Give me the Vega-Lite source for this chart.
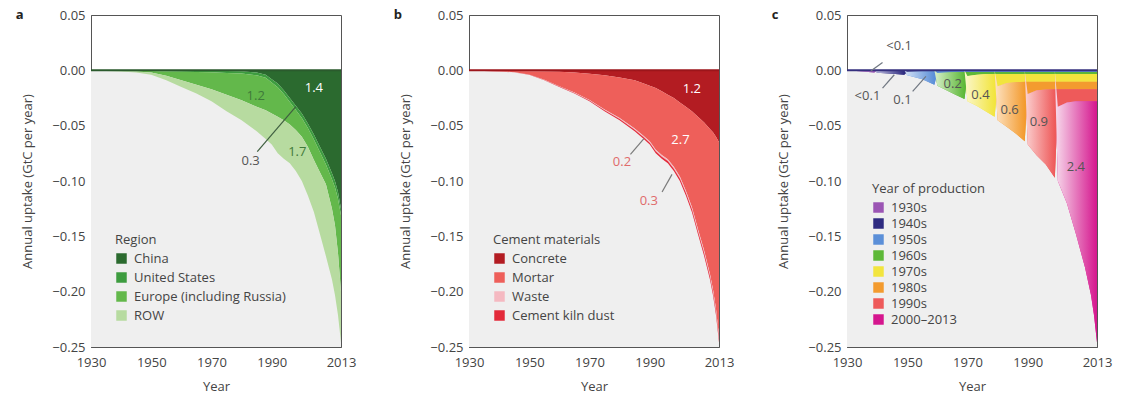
{
  "$schema": "https://vega.github.io/schema/vega-lite/v6.json",
  "padding": {"left": 15, "top": 8, "right": 5, "bottom": 0},
  "spacing": 36,
  "config": {
    "font": "Open Sans",
    "view": {"stroke": "#555", "strokeWidth": 1},
    "axis": {"domain": false, "grid": false, "tickSize": -4, "tickColor": "#555", "labelFont": "Open Sans", "labelFontSize": 13, "labelColor": "#444", "titleFont": "Open Sans", "titleFontSize": 13, "titleFontWeight": "normal", "titleColor": "#444"},
    "legend": {"orient": "none", "labelFont": "Open Sans", "labelFontSize": 13, "labelColor": "#444", "titleFont": "Open Sans", "titleFontSize": 13, "titleFontWeight": "normal", "titleColor": "#444", "symbolType": "square", "symbolSize": 110, "symbolStrokeWidth": 0, "rowPadding": 5, "titlePadding": 5, "labelOffset": 6},
    "title": {"font": "Open Sans", "fontSize": 13, "fontWeight": "bold", "color": "#222", "anchor": "start", "frame": "bounds", "offset": -13, "dx": -6}
  },
  "resolve": {"scale": {"color": "independent", "x": "independent", "y": "independent"}, "legend": {"color": "independent"}},
  "datasets": {
    "a": [
      {"year":1930,"s":"China","v":0},{"year":1935,"s":"China","v":-0.0001},{"year":1940,"s":"China","v":-0.0001},{"year":1945,"s":"China","v":-0.0001},{"year":1950,"s":"China","v":-0.0002},{"year":1955,"s":"China","v":-0.0002},{"year":1960,"s":"China","v":-0.0002},{"year":1965,"s":"China","v":-0.0003},{"year":1970,"s":"China","v":-0.0003},{"year":1975,"s":"China","v":-0.0005},{"year":1980,"s":"China","v":-0.0008},{"year":1985,"s":"China","v":-0.002},{"year":1988,"s":"China","v":-0.004},{"year":1990,"s":"China","v":-0.008},{"year":1992,"s":"China","v":-0.012},{"year":1994,"s":"China","v":-0.018},{"year":1996,"s":"China","v":-0.025},{"year":1998,"s":"China","v":-0.032},{"year":2000,"s":"China","v":-0.039},{"year":2002,"s":"China","v":-0.048},{"year":2004,"s":"China","v":-0.058},{"year":2006,"s":"China","v":-0.069},{"year":2008,"s":"China","v":-0.08},{"year":2010,"s":"China","v":-0.093},{"year":2011,"s":"China","v":-0.1},{"year":2012,"s":"China","v":-0.11},{"year":2013,"s":"China","v":-0.125},
      {"year":1930,"s":"United States","v":0},{"year":1935,"s":"United States","v":-0.0001},{"year":1940,"s":"United States","v":-0.0001},{"year":1945,"s":"United States","v":-0.0002},{"year":1950,"s":"United States","v":-0.0005},{"year":1955,"s":"United States","v":-0.0008},{"year":1960,"s":"United States","v":-0.001},{"year":1965,"s":"United States","v":-0.0012},{"year":1970,"s":"United States","v":-0.0015},{"year":1975,"s":"United States","v":-0.0018},{"year":1980,"s":"United States","v":-0.002},{"year":1985,"s":"United States","v":-0.0025},{"year":1988,"s":"United States","v":-0.0028},{"year":1990,"s":"United States","v":-0.003},{"year":1992,"s":"United States","v":-0.0032},{"year":1994,"s":"United States","v":-0.0034},{"year":1996,"s":"United States","v":-0.0036},{"year":1998,"s":"United States","v":-0.0038},{"year":2000,"s":"United States","v":-0.004},{"year":2002,"s":"United States","v":-0.0042},{"year":2004,"s":"United States","v":-0.0045},{"year":2006,"s":"United States","v":-0.0048},{"year":2008,"s":"United States","v":-0.005},{"year":2010,"s":"United States","v":-0.0055},{"year":2011,"s":"United States","v":-0.0057},{"year":2012,"s":"United States","v":-0.006},{"year":2013,"s":"United States","v":-0.006},
      {"year":1930,"s":"Europe (including Russia)","v":0},{"year":1935,"s":"Europe (including Russia)","v":-0.0001},{"year":1940,"s":"Europe (including Russia)","v":-0.0004},{"year":1945,"s":"Europe (including Russia)","v":-0.0007},{"year":1950,"s":"Europe (including Russia)","v":-0.0013},{"year":1955,"s":"Europe (including Russia)","v":-0.004},{"year":1960,"s":"Europe (including Russia)","v":-0.0078},{"year":1965,"s":"Europe (including Russia)","v":-0.0115},{"year":1970,"s":"Europe (including Russia)","v":-0.0152},{"year":1975,"s":"Europe (including Russia)","v":-0.0197},{"year":1980,"s":"Europe (including Russia)","v":-0.0242},{"year":1985,"s":"Europe (including Russia)","v":-0.0285},{"year":1988,"s":"Europe (including Russia)","v":-0.0292},{"year":1990,"s":"Europe (including Russia)","v":-0.028},{"year":1992,"s":"Europe (including Russia)","v":-0.0268},{"year":1994,"s":"Europe (including Russia)","v":-0.0236},{"year":1996,"s":"Europe (including Russia)","v":-0.0204},{"year":1998,"s":"Europe (including Russia)","v":-0.0182},{"year":2000,"s":"Europe (including Russia)","v":-0.017},{"year":2002,"s":"Europe (including Russia)","v":-0.0168},{"year":2004,"s":"Europe (including Russia)","v":-0.0185},{"year":2006,"s":"Europe (including Russia)","v":-0.0182},{"year":2008,"s":"Europe (including Russia)","v":-0.018},{"year":2010,"s":"Europe (including Russia)","v":-0.0265},{"year":2011,"s":"Europe (including Russia)","v":-0.0343},{"year":2012,"s":"Europe (including Russia)","v":-0.049},{"year":2013,"s":"Europe (including Russia)","v":-0.069},
      {"year":1930,"s":"ROW","v":0},{"year":1935,"s":"ROW","v":-0.0002},{"year":1940,"s":"ROW","v":-0.0004},{"year":1945,"s":"ROW","v":-0.001},{"year":1950,"s":"ROW","v":-0.002},{"year":1955,"s":"ROW","v":-0.004},{"year":1960,"s":"ROW","v":-0.006},{"year":1965,"s":"ROW","v":-0.008},{"year":1970,"s":"ROW","v":-0.011},{"year":1975,"s":"ROW","v":-0.015},{"year":1980,"s":"ROW","v":-0.018},{"year":1985,"s":"ROW","v":-0.022},{"year":1988,"s":"ROW","v":-0.026},{"year":1990,"s":"ROW","v":-0.028},{"year":1992,"s":"ROW","v":-0.033},{"year":1994,"s":"ROW","v":-0.035},{"year":1996,"s":"ROW","v":-0.035},{"year":1998,"s":"ROW","v":-0.037},{"year":2000,"s":"ROW","v":-0.04},{"year":2002,"s":"ROW","v":-0.044},{"year":2004,"s":"ROW","v":-0.047},{"year":2006,"s":"ROW","v":-0.056},{"year":2008,"s":"ROW","v":-0.065},{"year":2010,"s":"ROW","v":-0.064},{"year":2011,"s":"ROW","v":-0.063},{"year":2012,"s":"ROW","v":-0.056},{"year":2013,"s":"ROW","v":-0.046}
    ],
    "b": [
      {"year":1930,"s":"Concrete","v":0},{"year":1935,"s":"Concrete","v":-0.0002},{"year":1940,"s":"Concrete","v":-0.0004},{"year":1945,"s":"Concrete","v":-0.0006},{"year":1950,"s":"Concrete","v":-0.0008},{"year":1955,"s":"Concrete","v":-0.001},{"year":1960,"s":"Concrete","v":-0.0013},{"year":1965,"s":"Concrete","v":-0.002},{"year":1970,"s":"Concrete","v":-0.003},{"year":1975,"s":"Concrete","v":-0.0045},{"year":1980,"s":"Concrete","v":-0.0065},{"year":1985,"s":"Concrete","v":-0.009},{"year":1988,"s":"Concrete","v":-0.012},{"year":1990,"s":"Concrete","v":-0.014},{"year":1992,"s":"Concrete","v":-0.016},{"year":1994,"s":"Concrete","v":-0.019},{"year":1996,"s":"Concrete","v":-0.022},{"year":1998,"s":"Concrete","v":-0.025},{"year":2000,"s":"Concrete","v":-0.029},{"year":2002,"s":"Concrete","v":-0.033},{"year":2004,"s":"Concrete","v":-0.037},{"year":2006,"s":"Concrete","v":-0.042},{"year":2008,"s":"Concrete","v":-0.047},{"year":2010,"s":"Concrete","v":-0.053},{"year":2011,"s":"Concrete","v":-0.056},{"year":2012,"s":"Concrete","v":-0.06},{"year":2013,"s":"Concrete","v":-0.065},
      {"year":1930,"s":"Mortar","v":0},{"year":1935,"s":"Mortar","v":-0.0001},{"year":1940,"s":"Mortar","v":-0.0004},{"year":1945,"s":"Mortar","v":-0.0012},{"year":1950,"s":"Mortar","v":-0.0029},{"year":1955,"s":"Mortar","v":-0.0075},{"year":1960,"s":"Mortar","v":-0.013},{"year":1965,"s":"Mortar","v":-0.0181},{"year":1970,"s":"Mortar","v":-0.0238},{"year":1975,"s":"Mortar","v":-0.0309},{"year":1980,"s":"Mortar","v":-0.0365},{"year":1985,"s":"Mortar","v":-0.0436},{"year":1988,"s":"Mortar","v":-0.0473},{"year":1990,"s":"Mortar","v":-0.0501},{"year":1992,"s":"Mortar","v":-0.0558},{"year":1994,"s":"Mortar","v":-0.0576},{"year":1996,"s":"Mortar","v":-0.0584},{"year":1998,"s":"Mortar","v":-0.0622},{"year":2000,"s":"Mortar","v":-0.067},{"year":2002,"s":"Mortar","v":-0.0758},{"year":2004,"s":"Mortar","v":-0.0866},{"year":2006,"s":"Mortar","v":-0.1014},{"year":2008,"s":"Mortar","v":-0.1152},{"year":2010,"s":"Mortar","v":-0.131},{"year":2011,"s":"Mortar","v":-0.1419},{"year":2012,"s":"Mortar","v":-0.1557},{"year":2013,"s":"Mortar","v":-0.1755},
      {"year":1930,"s":"Waste","v":0},{"year":1935,"s":"Waste","v":-0.0001},{"year":1940,"s":"Waste","v":-0.0001},{"year":1945,"s":"Waste","v":-0.0001},{"year":1950,"s":"Waste","v":-0.0001},{"year":1955,"s":"Waste","v":-0.0002},{"year":1960,"s":"Waste","v":-0.0003},{"year":1965,"s":"Waste","v":-0.0004},{"year":1970,"s":"Waste","v":-0.0005},{"year":1975,"s":"Waste","v":-0.0007},{"year":1980,"s":"Waste","v":-0.0009},{"year":1985,"s":"Waste","v":-0.0011},{"year":1988,"s":"Waste","v":-0.0012},{"year":1990,"s":"Waste","v":-0.0013},{"year":1992,"s":"Waste","v":-0.0014},{"year":1994,"s":"Waste","v":-0.0015},{"year":1996,"s":"Waste","v":-0.0016},{"year":1998,"s":"Waste","v":-0.0017},{"year":2000,"s":"Waste","v":-0.0018},{"year":2002,"s":"Waste","v":-0.0019},{"year":2004,"s":"Waste","v":-0.002},{"year":2006,"s":"Waste","v":-0.0021},{"year":2008,"s":"Waste","v":-0.0022},{"year":2010,"s":"Waste","v":-0.0023},{"year":2011,"s":"Waste","v":-0.0023},{"year":2012,"s":"Waste","v":-0.0024},{"year":2013,"s":"Waste","v":-0.0025},
      {"year":1930,"s":"Cement kiln dust","v":0},{"year":1935,"s":"Cement kiln dust","v":-0.0001},{"year":1940,"s":"Cement kiln dust","v":-0.0001},{"year":1945,"s":"Cement kiln dust","v":-0.0001},{"year":1950,"s":"Cement kiln dust","v":-0.0002},{"year":1955,"s":"Cement kiln dust","v":-0.0003},{"year":1960,"s":"Cement kiln dust","v":-0.0004},{"year":1965,"s":"Cement kiln dust","v":-0.0005},{"year":1970,"s":"Cement kiln dust","v":-0.0007},{"year":1975,"s":"Cement kiln dust","v":-0.0009},{"year":1980,"s":"Cement kiln dust","v":-0.0011},{"year":1985,"s":"Cement kiln dust","v":-0.0013},{"year":1988,"s":"Cement kiln dust","v":-0.0015},{"year":1990,"s":"Cement kiln dust","v":-0.0016},{"year":1992,"s":"Cement kiln dust","v":-0.0018},{"year":1994,"s":"Cement kiln dust","v":-0.0019},{"year":1996,"s":"Cement kiln dust","v":-0.002},{"year":1998,"s":"Cement kiln dust","v":-0.0021},{"year":2000,"s":"Cement kiln dust","v":-0.0022},{"year":2002,"s":"Cement kiln dust","v":-0.0023},{"year":2004,"s":"Cement kiln dust","v":-0.0024},{"year":2006,"s":"Cement kiln dust","v":-0.0025},{"year":2008,"s":"Cement kiln dust","v":-0.0026},{"year":2010,"s":"Cement kiln dust","v":-0.0027},{"year":2011,"s":"Cement kiln dust","v":-0.0028},{"year":2012,"s":"Cement kiln dust","v":-0.0029},{"year":2013,"s":"Cement kiln dust","v":-0.003}
    ],
    "c": [
      {"year":1930,"s":"1930s","v":0},{"year":1935,"s":"1930s","v":-0.001},{"year":1939,"s":"1930s","v":-0.002},{"year":1940,"s":"1930s","v":-0.0006},{"year":1945,"s":"1930s","v":-0.0004},{"year":1949,"s":"1930s","v":-0.0003},{"year":1950,"s":"1930s","v":-0.0003},{"year":1955,"s":"1930s","v":-0.0003},{"year":1959,"s":"1930s","v":-0.0003},{"year":1960,"s":"1930s","v":-0.0003},{"year":1963,"s":"1930s","v":-0.0003},{"year":1966,"s":"1930s","v":-0.0003},{"year":1969,"s":"1930s","v":-0.0003},{"year":1970,"s":"1930s","v":-0.0003},{"year":1973,"s":"1930s","v":-0.0003},{"year":1976,"s":"1930s","v":-0.0003},{"year":1979,"s":"1930s","v":-0.0003},{"year":1980,"s":"1930s","v":-0.0003},{"year":1983,"s":"1930s","v":-0.0003},{"year":1986,"s":"1930s","v":-0.0003},{"year":1989,"s":"1930s","v":-0.0003},{"year":1990,"s":"1930s","v":-0.0003},{"year":1993,"s":"1930s","v":-0.0003},{"year":1996,"s":"1930s","v":-0.0003},{"year":1999,"s":"1930s","v":-0.0003},{"year":2000,"s":"1930s","v":-0.0003},{"year":2003,"s":"1930s","v":-0.0003},{"year":2006,"s":"1930s","v":-0.0003},{"year":2009,"s":"1930s","v":-0.0003},{"year":2011,"s":"1930s","v":-0.0003},{"year":2012,"s":"1930s","v":-0.0003},{"year":2013,"s":"1930s","v":-0.0003},
      {"year":1939,"s":"1940s","v":0},{"year":1940,"s":"1940s","v":-0.0016},{"year":1945,"s":"1940s","v":-0.0026},{"year":1949,"s":"1940s","v":-0.0037},{"year":1950,"s":"1940s","v":-0.0009},{"year":1955,"s":"1940s","v":-0.0006},{"year":1959,"s":"1940s","v":-0.0005},{"year":1960,"s":"1940s","v":-0.0005},{"year":1963,"s":"1940s","v":-0.0005},{"year":1966,"s":"1940s","v":-0.0005},{"year":1969,"s":"1940s","v":-0.0005},{"year":1970,"s":"1940s","v":-0.0005},{"year":1973,"s":"1940s","v":-0.0005},{"year":1976,"s":"1940s","v":-0.0005},{"year":1979,"s":"1940s","v":-0.0005},{"year":1980,"s":"1940s","v":-0.0005},{"year":1983,"s":"1940s","v":-0.0005},{"year":1986,"s":"1940s","v":-0.0005},{"year":1989,"s":"1940s","v":-0.0005},{"year":1990,"s":"1940s","v":-0.0005},{"year":1993,"s":"1940s","v":-0.0005},{"year":1996,"s":"1940s","v":-0.0005},{"year":1999,"s":"1940s","v":-0.0005},{"year":2000,"s":"1940s","v":-0.0005},{"year":2003,"s":"1940s","v":-0.0005},{"year":2006,"s":"1940s","v":-0.0005},{"year":2009,"s":"1940s","v":-0.0005},{"year":2011,"s":"1940s","v":-0.0005},{"year":2012,"s":"1940s","v":-0.0005},{"year":2013,"s":"1940s","v":-0.0005},
      {"year":1949,"s":"1950s","v":0},{"year":1950,"s":"1950s","v":-0.0033},{"year":1955,"s":"1950s","v":-0.0071},{"year":1959,"s":"1950s","v":-0.0122},{"year":1960,"s":"1950s","v":-0.0016},{"year":1963,"s":"1950s","v":-0.0011},{"year":1966,"s":"1950s","v":-0.0008},{"year":1969,"s":"1950s","v":-0.0008},{"year":1970,"s":"1950s","v":-0.0008},{"year":1973,"s":"1950s","v":-0.0008},{"year":1976,"s":"1950s","v":-0.0008},{"year":1979,"s":"1950s","v":-0.0008},{"year":1980,"s":"1950s","v":-0.0008},{"year":1983,"s":"1950s","v":-0.0008},{"year":1986,"s":"1950s","v":-0.0008},{"year":1989,"s":"1950s","v":-0.0008},{"year":1990,"s":"1950s","v":-0.0008},{"year":1993,"s":"1950s","v":-0.0008},{"year":1996,"s":"1950s","v":-0.0008},{"year":1999,"s":"1950s","v":-0.0008},{"year":2000,"s":"1950s","v":-0.0008},{"year":2003,"s":"1950s","v":-0.0008},{"year":2006,"s":"1950s","v":-0.0008},{"year":2009,"s":"1950s","v":-0.0008},{"year":2011,"s":"1950s","v":-0.0008},{"year":2012,"s":"1950s","v":-0.0008},{"year":2013,"s":"1950s","v":-0.0008},
      {"year":1959,"s":"1960s","v":0},{"year":1960,"s":"1960s","v":-0.0116},{"year":1963,"s":"1960s","v":-0.0161},{"year":1966,"s":"1960s","v":-0.0204},{"year":1969,"s":"1960s","v":-0.0244},{"year":1970,"s":"1960s","v":-0.0035},{"year":1973,"s":"1960s","v":-0.0023},{"year":1976,"s":"1960s","v":-0.0018},{"year":1979,"s":"1960s","v":-0.0018},{"year":1980,"s":"1960s","v":-0.0018},{"year":1983,"s":"1960s","v":-0.0018},{"year":1986,"s":"1960s","v":-0.0018},{"year":1989,"s":"1960s","v":-0.0018},{"year":1990,"s":"1960s","v":-0.0018},{"year":1993,"s":"1960s","v":-0.0018},{"year":1996,"s":"1960s","v":-0.0018},{"year":1999,"s":"1960s","v":-0.0018},{"year":2000,"s":"1960s","v":-0.0018},{"year":2003,"s":"1960s","v":-0.0018},{"year":2006,"s":"1960s","v":-0.0018},{"year":2009,"s":"1960s","v":-0.0018},{"year":2011,"s":"1960s","v":-0.0018},{"year":2012,"s":"1960s","v":-0.0018},{"year":2013,"s":"1960s","v":-0.0018},
      {"year":1969,"s":"1970s","v":0},{"year":1970,"s":"1970s","v":-0.0229},{"year":1973,"s":"1970s","v":-0.0281},{"year":1976,"s":"1970s","v":-0.0336},{"year":1979,"s":"1970s","v":-0.0386},{"year":1980,"s":"1970s","v":-0.011},{"year":1983,"s":"1970s","v":-0.008},{"year":1986,"s":"1970s","v":-0.0073},{"year":1989,"s":"1970s","v":-0.007},{"year":1990,"s":"1970s","v":-0.007},{"year":1993,"s":"1970s","v":-0.007},{"year":1996,"s":"1970s","v":-0.007},{"year":1999,"s":"1970s","v":-0.007},{"year":2000,"s":"1970s","v":-0.007},{"year":2003,"s":"1970s","v":-0.007},{"year":2006,"s":"1970s","v":-0.007},{"year":2009,"s":"1970s","v":-0.007},{"year":2011,"s":"1970s","v":-0.007},{"year":2012,"s":"1970s","v":-0.007},{"year":2013,"s":"1970s","v":-0.007},
      {"year":1979,"s":"1980s","v":0},{"year":1980,"s":"1980s","v":-0.0306},{"year":1983,"s":"1980s","v":-0.0396},{"year":1986,"s":"1980s","v":-0.0463},{"year":1989,"s":"1980s","v":-0.0536},{"year":1990,"s":"1980s","v":-0.011},{"year":1993,"s":"1980s","v":-0.0075},{"year":1996,"s":"1980s","v":-0.007},{"year":1999,"s":"1980s","v":-0.0066},{"year":2000,"s":"1980s","v":-0.0066},{"year":2003,"s":"1980s","v":-0.0066},{"year":2006,"s":"1980s","v":-0.0066},{"year":2009,"s":"1980s","v":-0.0066},{"year":2011,"s":"1980s","v":-0.0066},{"year":2012,"s":"1980s","v":-0.0066},{"year":2013,"s":"1980s","v":-0.0066},
      {"year":1989,"s":"1990s","v":0},{"year":1990,"s":"1990s","v":-0.0456},{"year":1993,"s":"1990s","v":-0.0591},{"year":1996,"s":"1990s","v":-0.0676},{"year":1999,"s":"1990s","v":-0.08},{"year":2000,"s":"1990s","v":-0.016},{"year":2003,"s":"1990s","v":-0.012},{"year":2006,"s":"1990s","v":-0.011},{"year":2009,"s":"1990s","v":-0.011},{"year":2011,"s":"1990s","v":-0.011},{"year":2012,"s":"1990s","v":-0.011},{"year":2013,"s":"1990s","v":-0.011},
      {"year":1999,"s":"2000–2013","v":0},{"year":2000,"s":"2000–2013","v":-0.067},{"year":2003,"s":"2000–2013","v":-0.091},{"year":2006,"s":"2000–2013","v":-0.12},{"year":2009,"s":"2000–2013","v":-0.15},{"year":2011,"s":"2000–2013","v":-0.175},{"year":2012,"s":"2000–2013","v":-0.193},{"year":2013,"s":"2000–2013","v":-0.218}
    ],
    "aWhite": [{"year":2004,"v":-0.016,"t":"1.4"}],
    "aGreen": [{"year":1984.7,"v":-0.023,"t":"1.2"},{"year":1998.5,"v":-0.074,"t":"1.7"}],
    "aGray": [{"year":1983,"v":-0.0817,"t":"0.3"}],
    "aLead": [{"x":1985.2,"y":-0.0735,"x2":1998,"y2":-0.0328}],
    "bWhite": [{"year":2004,"v":-0.017,"t":"1.2"},{"year":2000.2,"v":-0.063,"t":"2.7"}],
    "bRed": [{"year":1980.8,"v":-0.083,"t":"0.2"},{"year":1989.7,"v":-0.118,"t":"0.3"}],
    "bLead": [{"x":1983.6,"y":-0.076,"x2":1988,"y2":-0.062},{"x":1994.1,"y":-0.11,"x2":1997.4,"y2":-0.094}],
    "cText": [{"year":1947.3,"v":0.022,"t":"<0.1"},{"year":1936.8,"v":-0.0235,"t":"<0.1"},{"year":1948.4,"v":-0.0265,"t":"0.1"},{"year":1965.1,"v":-0.0125,"t":"0.2"},{"year":1974.3,"v":-0.0225,"t":"0.4"},{"year":1984,"v":-0.036,"t":"0.6"},{"year":1993.7,"v":-0.047,"t":"0.9"},{"year":2006,"v":-0.087,"t":"2.4"}],
    "cLead": [{"x":1941.8,"y":0.007,"x2":1937.9,"y2":-0.0006},{"x":1941.8,"y":-0.016,"x2":1945.7,"y2":-0.004},{"x":1951.8,"y":-0.019,"x2":1956.2,"y2":-0.0054}]
  },
  "hconcat": [
    {
      "width": 250, "height": 332,
      "title": {"text": "a"},
      "resolve": {"axis": {"x": "independent"}},
      "layer": [
        {"data": {"values": [{}]}, "mark": {"type": "rect", "color": "#efefef"},
         "encoding": {
           "x": {"datum": 1930, "type": "quantitative", "scale": {"domain": [1930, 2013], "nice": false, "zero": false},
                 "axis": {"title": "Year", "orient": "bottom", "values": [1930,1950,1970,1990,2013], "format": "d", "labelFlush": false, "labelPadding": 13, "titlePadding": 11}},
           "x2": {"datum": 2013},
           "y": {"datum": 0, "type": "quantitative", "scale": {"domain": [-0.25, 0.05], "nice": false, "zero": false},
                 "axis": {"title": "Annual uptake (GtC per year)", "values": [0.05,0,-0.05,-0.1,-0.15,-0.2,-0.25], "format": ".2f", "labelPadding": 10, "titlePadding": 17}},
           "y2": {"datum": -0.25}}},
        {"data": {"name": "a"},
         "transform": [{"calculate": "indexof(['China','United States','Europe (including Russia)','ROW'], datum.s)", "as": "k"}],
         "mark": {"type": "area"},
         "encoding": {
           "x": {"field": "year", "type": "quantitative", "axis": {"orient": "bottom", "values": [1935,1940,1945,1955,1960,1965,1975,1980,1985,1995,2000,2005,2010], "labels": false, "title": null}},
           "y": {"field": "v", "type": "quantitative", "stack": "zero"},
           "order": {"field": "k", "type": "quantitative"},
           "color": {"field": "s", "type": "nominal",
                     "scale": {"domain": ["China","United States","Europe (including Russia)","ROW"], "range": ["#2b6a2f","#3d9c3f","#63b84b","#b7dba0"]},
                     "legend": {"title": "Region", "legendX": 24, "legendY": 219}}}},
        {"data": {"values": [{}]}, "mark": {"type": "rule", "color": "#2b5a2d", "strokeWidth": 2}, "encoding": {"y": {"datum": 0, "type": "quantitative"}}},
        {"data": {"name": "aLead"}, "mark": {"type": "rule", "color": "#3f5f40", "strokeWidth": 1.2},
         "encoding": {"x": {"field": "x", "type": "quantitative", "axis": null}, "x2": {"field": "x2"}, "y": {"field": "y", "type": "quantitative"}, "y2": {"field": "y2"}}},
        {"data": {"name": "aWhite"}, "mark": {"type": "text", "color": "#ffffff", "fontSize": 13},
         "encoding": {"x": {"field": "year", "type": "quantitative", "axis": null}, "y": {"field": "v", "type": "quantitative"}, "text": {"field": "t"}}},
        {"data": {"name": "aGreen"}, "mark": {"type": "text", "color": "#3f7a3a", "fontSize": 13},
         "encoding": {"x": {"field": "year", "type": "quantitative", "axis": null}, "y": {"field": "v", "type": "quantitative"}, "text": {"field": "t"}}},
        {"data": {"name": "aGray"}, "mark": {"type": "text", "color": "#555555", "fontSize": 13},
         "encoding": {"x": {"field": "year", "type": "quantitative", "axis": null}, "y": {"field": "v", "type": "quantitative"}, "text": {"field": "t"}}}
      ]
    },
    {
      "width": 250, "height": 332,
      "title": {"text": "b"},
      "resolve": {"axis": {"x": "independent"}},
      "layer": [
        {"data": {"values": [{}]}, "mark": {"type": "rect", "color": "#efefef"},
         "encoding": {
           "x": {"datum": 1930, "type": "quantitative", "scale": {"domain": [1930, 2013], "nice": false, "zero": false},
                 "axis": {"title": "Year", "orient": "bottom", "values": [1930,1950,1970,1990,2013], "format": "d", "labelFlush": false, "labelPadding": 13, "titlePadding": 11}},
           "x2": {"datum": 2013},
           "y": {"datum": 0, "type": "quantitative", "scale": {"domain": [-0.25, 0.05], "nice": false, "zero": false},
                 "axis": {"title": "Annual uptake (GtC per year)", "values": [0.05,0,-0.05,-0.1,-0.15,-0.2,-0.25], "format": ".2f", "labelPadding": 10, "titlePadding": 17}},
           "y2": {"datum": -0.25}}},
        {"data": {"name": "b"},
         "transform": [{"calculate": "indexof(['Concrete','Mortar','Waste','Cement kiln dust'], datum.s)", "as": "k"}],
         "mark": {"type": "area"},
         "encoding": {
           "x": {"field": "year", "type": "quantitative", "axis": {"orient": "bottom", "values": [1935,1940,1945,1955,1960,1965,1975,1980,1985,1995,2000,2005,2010], "labels": false, "title": null}},
           "y": {"field": "v", "type": "quantitative", "stack": "zero"},
           "order": {"field": "k", "type": "quantitative"},
           "color": {"field": "s", "type": "nominal",
                     "scale": {"domain": ["Concrete","Mortar","Waste","Cement kiln dust"], "range": ["#b31c22","#ee5f5a","#f5b9c1","#e32a3a"]},
                     "legend": {"title": "Cement materials", "legendX": 24, "legendY": 219}}}},
        {"data": {"values": [{}]}, "mark": {"type": "rule", "color": "#9c151b", "strokeWidth": 2}, "encoding": {"y": {"datum": 0, "type": "quantitative"}}},
        {"data": {"name": "bLead"}, "mark": {"type": "rule", "color": "#7a7a7a", "strokeWidth": 1.2},
         "encoding": {"x": {"field": "x", "type": "quantitative", "axis": null}, "x2": {"field": "x2"}, "y": {"field": "y", "type": "quantitative"}, "y2": {"field": "y2"}}},
        {"data": {"name": "bWhite"}, "mark": {"type": "text", "color": "#ffffff", "fontSize": 13},
         "encoding": {"x": {"field": "year", "type": "quantitative", "axis": null}, "y": {"field": "v", "type": "quantitative"}, "text": {"field": "t"}}},
        {"data": {"name": "bRed"}, "mark": {"type": "text", "color": "#e06b6b", "fontSize": 13},
         "encoding": {"x": {"field": "year", "type": "quantitative", "axis": null}, "y": {"field": "v", "type": "quantitative"}, "text": {"field": "t"}}}
      ]
    },
    {
      "width": 250, "height": 332,
      "title": {"text": "c"},
      "data": {"name": "c"},
      "transform": [
        {"calculate": "indexof(['1930s','1940s','1950s','1960s','1970s','1980s','1990s','2000–2013'], datum.s)", "as": "k"},
        {"stack": "v", "groupby": ["year"], "sort": [{"field": "k", "order": "ascending"}], "as": ["v0", "v1"]}
      ],
      "resolve": {"axis": {"x": "independent"}},
      "layer": [
        {"data": {"values": [{}]}, "mark": {"type": "rect", "color": "#efefef"},
         "encoding": {
           "x": {"datum": 1930, "type": "quantitative", "scale": {"domain": [1930, 2013], "nice": false, "zero": false},
                 "axis": {"title": "Year", "orient": "bottom", "values": [1930,1950,1970,1990,2013], "format": "d", "labelFlush": false, "labelPadding": 13, "titlePadding": 11}},
           "x2": {"datum": 2013},
           "y": {"datum": 0, "type": "quantitative", "scale": {"domain": [-0.25, 0.05], "nice": false, "zero": false},
                 "axis": {"title": "Annual uptake (GtC per year)", "values": [0.05,0,-0.05,-0.1,-0.15,-0.2,-0.25], "format": ".2f", "labelPadding": 10, "titlePadding": 17}},
           "y2": {"datum": -0.25}}},
        {"mark": {"type": "area"},
         "encoding": {
           "x": {"field": "year", "type": "quantitative", "axis": {"orient": "bottom", "values": [1935,1940,1945,1955,1960,1965,1975,1980,1985,1995,2000,2005,2010], "labels": false, "title": null}},
           "y": {"field": "v0", "type": "quantitative"},
           "y2": {"field": "v1"},
           "color": {"field": "s", "type": "nominal",
                     "scale": {"domain": ["1930s","1940s","1950s","1960s","1970s","1980s","1990s","2000–2013"], "range": ["#9b55b4","#2e2b80","#5b8fd8","#5db838","#f2e53e","#f39b2f","#ee5a5a","#d5168e"]},
                     "legend": {"title": "Year of production", "legendX": 25, "legendY": 168, "rowPadding": 2}}}},
        {"transform": [{"filter": "datum.s == '1930s'"}], "mark": {"type": "area", "color": {"gradient": "linear", "x1": 0, "x2": 1, "y1": 0, "y2": 0, "stops": [{"offset": 0, "color": "#e4cdee"}, {"offset": 0.108, "color": "#9b55b4"}, {"offset": 1, "color": "#9b55b4"}]}},
         "encoding": {"x": {"field": "year", "type": "quantitative", "axis": null}, "y": {"field": "v0", "type": "quantitative"}, "y2": {"field": "v1"}}},
        {"transform": [{"filter": "datum.s == '1940s'"}], "mark": {"type": "area", "color": {"gradient": "linear", "x1": 0, "x2": 1, "y1": 0, "y2": 0, "stops": [{"offset": 0, "color": "#c8c7e6"}, {"offset": 0.135, "color": "#2e2b80"}, {"offset": 1, "color": "#2e2b80"}]}},
         "encoding": {"x": {"field": "year", "type": "quantitative", "axis": null}, "y": {"field": "v0", "type": "quantitative"}, "y2": {"field": "v1"}}},
        {"transform": [{"filter": "datum.s == '1950s'"}], "mark": {"type": "area", "color": {"gradient": "linear", "x1": 0, "x2": 1, "y1": 0, "y2": 0, "stops": [{"offset": 0, "color": "#d6e3f6"}, {"offset": 0.156, "color": "#5b8fd8"}, {"offset": 1, "color": "#5b8fd8"}]}},
         "encoding": {"x": {"field": "year", "type": "quantitative", "axis": null}, "y": {"field": "v0", "type": "quantitative"}, "y2": {"field": "v1"}}},
        {"transform": [{"filter": "datum.s == '1960s'"}], "mark": {"type": "area", "color": {"gradient": "linear", "x1": 0, "x2": 1, "y1": 0, "y2": 0, "stops": [{"offset": 0, "color": "#d9eecb"}, {"offset": 0.185, "color": "#5db838"}, {"offset": 1, "color": "#5db838"}]}},
         "encoding": {"x": {"field": "year", "type": "quantitative", "axis": null}, "y": {"field": "v0", "type": "quantitative"}, "y2": {"field": "v1"}}},
        {"transform": [{"filter": "datum.s == '1970s'"}], "mark": {"type": "area", "color": {"gradient": "linear", "x1": 0, "x2": 1, "y1": 0, "y2": 0, "stops": [{"offset": 0, "color": "#fbf7cd"}, {"offset": 0.227, "color": "#f2e53e"}, {"offset": 1, "color": "#f2e53e"}]}},
         "encoding": {"x": {"field": "year", "type": "quantitative", "axis": null}, "y": {"field": "v0", "type": "quantitative"}, "y2": {"field": "v1"}}},
        {"transform": [{"filter": "datum.s == '1980s'"}], "mark": {"type": "area", "color": {"gradient": "linear", "x1": 0, "x2": 1, "y1": 0, "y2": 0, "stops": [{"offset": 0, "color": "#fde3c4"}, {"offset": 0.294, "color": "#f39b2f"}, {"offset": 1, "color": "#f39b2f"}]}},
         "encoding": {"x": {"field": "year", "type": "quantitative", "axis": null}, "y": {"field": "v0", "type": "quantitative"}, "y2": {"field": "v1"}}},
        {"transform": [{"filter": "datum.s == '1990s'"}], "mark": {"type": "area", "color": {"gradient": "linear", "x1": 0, "x2": 1, "y1": 0, "y2": 0, "stops": [{"offset": 0, "color": "#fbd3d3"}, {"offset": 0.417, "color": "#ee5a5a"}, {"offset": 1, "color": "#ee5a5a"}]}},
         "encoding": {"x": {"field": "year", "type": "quantitative", "axis": null}, "y": {"field": "v0", "type": "quantitative"}, "y2": {"field": "v1"}}},
        {"transform": [{"filter": "datum.s == '2000–2013'"}], "mark": {"type": "area", "color": {"gradient": "linear", "x1": 0, "x2": 1, "y1": 0, "y2": 0, "stops": [{"offset": 0, "color": "#f7dcec"}, {"offset": 1, "color": "#d5168e"}]}},
         "encoding": {"x": {"field": "year", "type": "quantitative", "axis": null}, "y": {"field": "v0", "type": "quantitative"}, "y2": {"field": "v1"}}},
        {"data": {"values": [{}]}, "mark": {"type": "rule", "color": "#35307e", "strokeWidth": 2}, "encoding": {"y": {"datum": 0, "type": "quantitative"}}},
        {"data": {"name": "cLead"}, "mark": {"type": "rule", "color": "#6f7680", "strokeWidth": 1.2},
         "encoding": {"x": {"field": "x", "type": "quantitative", "axis": null}, "x2": {"field": "x2"}, "y": {"field": "y", "type": "quantitative"}, "y2": {"field": "y2"}}},
        {"data": {"name": "cText"}, "mark": {"type": "text", "color": "#555555", "fontSize": 13},
         "encoding": {"x": {"field": "year", "type": "quantitative", "axis": null}, "y": {"field": "v", "type": "quantitative"}, "text": {"field": "t"}}}
      ]
    }
  ]
}
